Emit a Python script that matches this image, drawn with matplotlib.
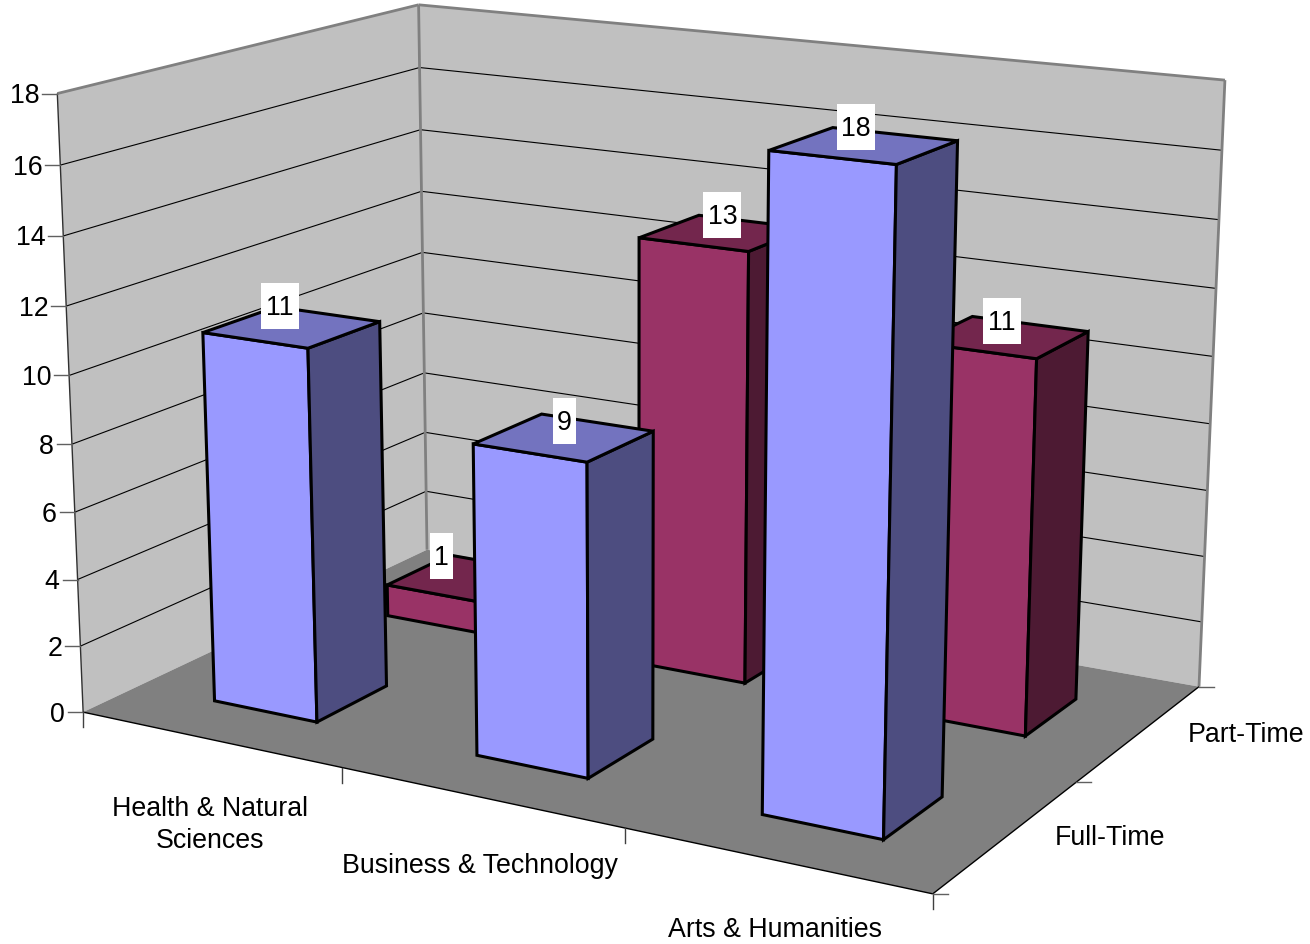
import numpy as np
import matplotlib
matplotlib.use("Agg")
import matplotlib.pyplot as plt
from matplotlib.patches import Rectangle

plt.rcParams['font.family'] = ['Liberation Sans', 'DejaVu Sans']

categories = ["Health & Natural\nSciences", "Business & Technology", "Arts & Humanities"]
series_names = ["Full-Time", "Part-Time"]
full_time = [11, 9, 18]
part_time = [1, 13, 11]
y_ticks = [0, 2, 4, 6, 8, 10, 12, 14, 16, 18]

# where the chart box corners sit in the picture, used to fit the camera
anchors = [
    ((0, 0, 0), (83.5, 712.5)),
    ((3, 0, 0), (932, 895)),
    ((3, 2, 0), (1199, 687)),
    ((0, 2, 0), (427, 551)),
    ((0, 0, 18), (58, 94.5)),
    ((0, 2, 18), (418.5, 6)),
    ((3, 2, 18), (1225, 81)),
    ((1, 0, 0), (343, 769)),
    ((2, 0, 0), (625, 829)),
    ((3, 1, 0), (1076, 784)),
    ((0, 0, 8), (70.5, 445)),
]

A = []
b = []
for (X, Y, Z), (u, v) in anchors:
    A.append([X, Y, Z, 1, 0, 0, 0, 0, -u * X, -u * Y, -u * Z])
    A.append([0, 0, 0, 0, X, Y, Z, 1, -v * X, -v * Y, -v * Z])
    b.append(u)
    b.append(v)
P = np.linalg.lstsq(np.array(A, dtype=float), np.array(b, dtype=float), rcond=None)[0]
P = np.append(P, 1.0).reshape(3, 4)


def proj(x, y, z):
    q = P @ np.array([x, y, z, 1.0])
    return q[0] / q[2], q[1] / q[2]


def face(pts, fc, ec, lw, z):
    xy = np.array([proj(*p) for p in pts])
    ax.fill(xy[:, 0], xy[:, 1], facecolor=fc, edgecolor=ec, linewidth=lw, joinstyle='miter', zorder=z)


def seg(p1, p2, color, lw, z=2):
    a = proj(*p1)
    c = proj(*p2)
    ax.plot([a[0], c[0]], [a[1], c[1]], color=color, lw=lw, zorder=z, solid_capstyle='butt')


fig = plt.figure(figsize=(13.1, 9.45), dpi=100)
ax = fig.add_axes([0, 0, 1, 1])
ax.set_xlim(0, 1310)
ax.set_ylim(945, 0)
ax.axis('off')

fs = 19.3
top = y_ticks[-1]
wall = "#C0C0C0"
floor = "#808080"
face([(0, 0, 0), (0, 2, 0), (0, 2, top), (0, 0, top)], wall, "none", 0, 1)
face([(0, 2, 0), (3, 2, 0), (3, 2, top), (0, 2, top)], wall, "none", 0, 1)
face([(0, 0, 0), (3, 0, 0), (3, 2, 0), (0, 2, 0)], floor, "none", 0, 1.5)

for t in y_ticks[1:-1]:
    seg((0, 0, t), (0, 2, t), "black", 0.8)
    seg((0, 2, t), (3, 2, t), "black", 0.8)
seg((0, 0, top), (0, 2, top), floor, 2)
seg((0, 2, top), (3, 2, top), floor, 2)
seg((0, 2, 0), (0, 2, top), floor, 2)
seg((3, 2, 0), (3, 2, top), floor, 2)
seg((0, 0, 0), (0, 0, top), "#303030", 1)
seg((0, 0, 0), (3, 0, 0), "black", 1)
seg((3, 0, 0), (3, 2, 0), "black", 1)

for t in y_ticks:
    px, py = proj(0, 0, t)
    ax.plot([px - 15, px], [py, py], color="#606060", lw=1, zorder=2)
    ax.text(px - 18, py + 1.5, str(t), ha='right', va='center', fontsize=fs, color="black")
for i in range(4):
    px, py = proj(i, 0, 0)
    ax.plot([px, px], [py, py + 15], color="#404040", lw=1, zorder=2)
for j in range(3):
    px, py = proj(3, j, 0)
    ax.plot([px, px + 15], [py, py], color="#606060", lw=1, zorder=2)

cat_label_pos = [(210, 825), (480, 866), (775, 930)]
for name, (px, py) in zip(categories, cat_label_pos):
    ax.text(px, py, name, ha='center', va='center', fontsize=fs, linespacing=1.28)
series_label_pos = [(1110, 838), (1246, 735)]
for name, (px, py) in zip(series_names, series_label_pos):
    ax.text(px, py, name, ha='center', va='center', fontsize=fs)

bar_w = 0.40
bar_d = 0.395
bar_x_start = 0.30
bar_y_start = 0.295
blue = ("#9999FF", "#7373BF", "#4D4D80")
maroon = ("#993366", "#73264D", "#4D1A33")


def bar(i, j, val, cols, z):
    x0 = i + bar_x_start
    x1 = x0 + bar_w
    y0 = j + bar_y_start
    y1 = y0 + bar_d
    face([(x0, y0, 0), (x1, y0, 0), (x1, y0, val), (x0, y0, val)], cols[0], "black", 2.2, z)
    face([(x1, y0, 0), (x1, y1, 0), (x1, y1, val), (x1, y0, val)], cols[2], "black", 2.2, z)
    face([(x0, y0, val), (x1, y0, val), (x1, y1, val), (x0, y1, val)], cols[1], "black", 2.2, z)


for i, v in enumerate(part_time):
    bar(i, 1, v, maroon, 3 + i * 0.1)
for i, v in enumerate(full_time):
    bar(i, 0, v, blue, 4 + i * 0.1)

# labels sit a little off the middle of each bar's top
nudge_full = [(-13, -21), (-1, -16), (-9, -18)]
nudge_part = [(-27, -22), (-2, -18), (-3, -16)]
for j, vals, nudges in [(1, part_time, nudge_part), (0, full_time, nudge_full)]:
    for i, v in enumerate(vals):
        px, py = proj(i + 0.5, j + 0.5, v)
        px += nudges[i][0]
        py += nudges[i][1]
        s = str(v)
        w = 8 + 15 * len(s)
        ax.add_patch(Rectangle((px - w / 2, py - 23), w, 46, facecolor="white", edgecolor="none", zorder=6))
        ax.text(px, py + 1, s, ha='center', va='center', fontsize=fs, zorder=7)

fig.savefig("out.png", dpi=100)
